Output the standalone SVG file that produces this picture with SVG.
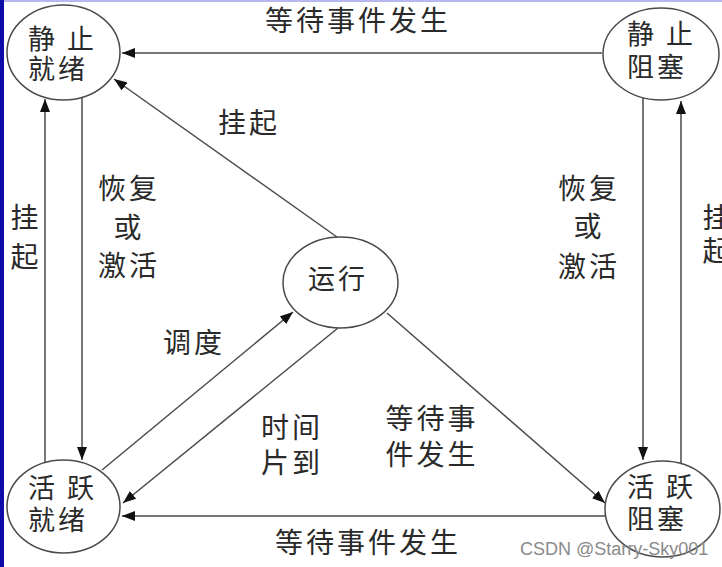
<svg xmlns="http://www.w3.org/2000/svg" width="722" height="567" viewBox="0 0 722 567">
<style>
.node ellipse{fill:#fff;stroke:#4a4a4a;stroke-width:1.5}
.node text{font-family:"Noto Sans CJK SC",sans-serif;font-size:27px;fill:#2a2a2a;letter-spacing:3px;dominant-baseline:central}
.edges line{stroke:#4a4a4a;stroke-width:1.5;fill:none}
.arr{marker-end:url(#ah)}
.lbl{font-family:"Noto Sans CJK SC",sans-serif;font-size:28px;fill:#2a2a2a;letter-spacing:3px;text-anchor:middle;dominant-baseline:central}
.wm{font-family:"Liberation Sans",Arial,sans-serif;font-size:18px;fill:#8a8a8a}
</style>
<defs>
<marker id="ah" markerUnits="userSpaceOnUse" markerWidth="13" markerHeight="10" refX="13" refY="5" orient="auto">
<path d="M0,0 L13,5 L0,10 z" fill="#111"/>
</marker>
</defs>
<rect x="0" y="0" width="722" height="567" fill="#fff"/>
<rect x="0" y="0" width="722" height="2" fill="#b8b8ee"/>
<rect x="0" y="0" width="4" height="567" fill="#0c0ca6"/>

<g id="edges" class="edges">
<line class="arr" x1="602" y1="53" x2="122" y2="53"/>
<line class="arr" x1="45" y1="462" x2="45" y2="99"/>
<line class="arr" x1="82" y1="98" x2="82" y2="460"/>
<line class="arr" x1="643" y1="98" x2="643" y2="460"/>
<line class="arr" x1="681" y1="463" x2="681" y2="101"/>
<line class="arr" x1="337" y1="237" x2="114" y2="79"/>
<line class="arr" x1="102" y1="470" x2="293" y2="312"/>
<line class="arr" x1="338" y1="328" x2="123" y2="503"/>
<line class="arr" x1="387" y1="313" x2="605" y2="503"/>
<line class="arr" x1="605" y1="516" x2="122" y2="516"/>
</g>

<g id="n-static-ready" class="node">
<ellipse cx="63.5" cy="52.5" rx="56.5" ry="47.5"/>
<text x="28" y="37">静 止</text>
<text x="28" y="67">就绪</text>
</g>
<g id="n-static-blocked" class="node">
<ellipse cx="661" cy="54" rx="58" ry="46"/>
<text x="627" y="32">静 止</text>
<text x="627" y="65">阻塞</text>
</g>
<g id="n-running" class="node">
<ellipse cx="340.5" cy="282.5" rx="57.5" ry="45.5"/>
<text x="308" y="277">运行</text>
</g>
<g id="n-active-ready" class="node">
<ellipse cx="63.5" cy="506.5" rx="56.5" ry="46.5"/>
<text x="28" y="486">活 跃</text>
<text x="28" y="518">就绪</text>
</g>
<g id="n-active-blocked" class="node">
<ellipse cx="662.5" cy="509" rx="57.5" ry="48"/>
<text x="627" y="485">活 跃</text>
<text x="627" y="517">阻塞</text>
</g>

<g id="labels">
<text class="lbl" x="358" y="19">等待事件发生</text>
<text class="lbl" x="368" y="541">等待事件发生</text>
<text class="lbl" x="249" y="121">挂起</text>
<text class="lbl" x="129" y="187">恢复</text>
<text class="lbl" x="129" y="226">或</text>
<text class="lbl" x="129" y="264">激活</text>
<text class="lbl" x="589" y="187">恢复</text>
<text class="lbl" x="589" y="225">或</text>
<text class="lbl" x="589" y="265">激活</text>
<text class="lbl" x="26" y="216">挂</text>
<text class="lbl" x="26" y="255">起</text>
<text class="lbl" x="718" y="216">挂</text>
<text class="lbl" x="718" y="249">起</text>
<text class="lbl" x="194" y="341">调度</text>
<text class="lbl" x="292" y="426">时间</text>
<text class="lbl" x="292" y="461">片到</text>
<text class="lbl" x="432" y="417">等待事</text>
<text class="lbl" x="432" y="453">件发生</text>
<text class="wm" x="520" y="555">CSDN @Starry-Sky001</text>
</g>
</svg>
